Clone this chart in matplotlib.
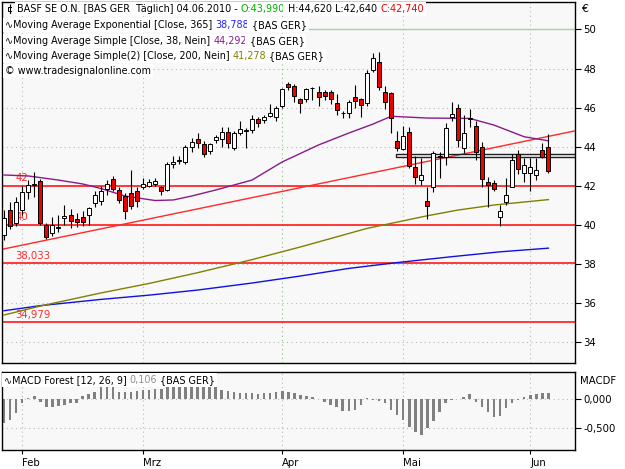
import matplotlib
matplotlib.use("Agg")
import matplotlib.pyplot as plt
from matplotlib.patches import Rectangle

# ---- data (BASF daily, 27.01.2010 - 04.06.2010) ----
opens = [39.46, 40.74, 40.08, 40.74, 41.68, 42.05, 42.25, 39.97, 39.58, 39.82,
         40.32, 40.49, 40.27, 40.40, 40.49, 41.09, 41.20, 41.80, 42.33, 41.77,
         41.46, 41.63, 41.72, 41.93, 42.00, 42.08, 41.93, 41.77, 43.10, 43.25,
         43.22, 43.99, 44.37, 44.13, 43.78, 44.33, 44.37, 44.76, 43.91, 44.68,
         44.80, 44.85, 45.40, 45.36, 45.56, 45.50, 46.08, 47.20, 47.10, 46.42,
         46.42, 46.98, 46.81, 46.81, 46.81, 46.22, 45.72, 45.70, 46.55, 46.42,
         46.23, 47.92, 48.35, 46.81, 46.74, 44.28, 43.87, 44.74, 42.96, 42.30,
         41.20, 41.92, 43.45, 43.46, 45.51, 45.99, 43.93, 45.42, 45.05, 43.99,
         42.20, 42.15, 40.40, 41.17, 41.94, 43.62, 42.66, 42.63, 42.54, 43.82,
         43.99]
highs = [40.74, 41.15, 41.40, 42.00, 42.30, 42.71, 42.35, 40.10, 40.40, 40.50,
         40.99, 40.80, 40.60, 40.70, 40.90, 41.70, 42.00, 42.30, 42.50, 41.90,
         41.60, 42.80, 41.90, 42.40, 42.35, 42.40, 42.00, 43.20, 43.50, 43.50,
         44.10, 44.45, 44.70, 44.30, 44.20, 44.60, 45.00, 45.00, 44.80, 45.30,
         44.95, 45.60, 45.50, 45.60, 46.20, 46.10, 47.00, 47.30, 47.20, 46.50,
         47.00, 47.05, 47.10, 46.90, 46.90, 46.70, 45.80, 46.40, 47.15, 46.50,
         47.90, 48.80, 48.85, 47.10, 46.80, 44.80, 45.05, 45.00, 43.50, 43.40,
         41.90, 43.75, 43.70, 45.20, 46.30, 46.20, 45.60, 45.90, 45.30, 44.25,
         42.45, 42.30, 41.00, 42.38, 43.60, 43.80, 43.40, 43.40, 43.40, 44.20,
         44.62]
lows = [39.20, 39.75, 39.90, 40.50, 41.30, 41.43, 40.00, 39.25, 39.40, 39.60,
        39.97, 39.80, 39.85, 39.90, 40.00, 40.90, 41.00, 41.50, 41.70, 41.10,
        40.28, 40.80, 40.90, 41.80, 41.90, 41.95, 41.50, 41.70, 42.90, 43.10,
        43.10, 43.73, 43.90, 43.45, 43.60, 44.20, 44.00, 43.90, 43.80, 44.60,
        43.92, 44.70, 45.00, 45.20, 45.50, 45.30, 46.00, 46.90, 46.30, 45.72,
        46.30, 46.40, 46.10, 46.40, 46.20, 45.62, 45.45, 45.45, 46.00, 45.50,
        46.10, 47.80, 46.90, 45.90, 44.69, 43.75, 43.80, 42.90, 42.10, 42.03,
        40.30, 41.68, 42.40, 43.05, 45.30, 43.95, 43.67, 45.00, 43.30, 41.94,
        40.91, 41.70, 39.92, 41.00, 41.90, 42.60, 42.20, 41.73, 42.30, 43.40,
        42.64]
closes = [40.33, 39.90, 41.17, 41.68, 42.03, 42.10, 40.06, 39.37, 39.97, 39.89,
          40.44, 40.19, 40.14, 40.14, 40.83, 41.51, 41.70, 42.10, 41.80, 41.24,
          40.70, 40.95, 41.20, 42.10, 42.20, 42.25, 41.70, 43.10, 43.22, 43.30,
          43.99, 44.25, 44.20, 43.62, 44.13, 44.50, 44.76, 44.16, 44.71, 44.88,
          44.82, 45.40, 45.19, 45.50, 45.73, 45.96, 46.93, 47.04, 46.59, 46.22,
          46.93, 47.00, 46.55, 46.59, 46.42, 45.87, 45.70, 46.30, 46.35, 46.13,
          47.77, 48.54, 47.05, 46.30, 45.46, 43.92, 44.55, 43.02, 42.45, 42.54,
          40.96, 43.67, 43.50, 44.95, 45.67, 44.33, 44.69, 45.47, 43.73, 42.32,
          42.03, 41.82, 40.71, 41.51, 43.31, 42.83, 43.05, 42.96, 42.80, 43.48,
          42.74]

# moving averages, read at selected bars (bar index, value)
ema365_idx = [0, 6, 16, 24, 32, 41, 49, 57, 65, 74, 82, 90]
ema365_val = [35.58, 35.84, 36.16, 36.38, 36.64, 37.00, 37.36, 37.75, 38.05, 38.35, 38.60, 38.788]
sma38_idx = [0, 4, 9, 13, 16, 20, 25, 28, 31, 35, 41, 46, 52, 57, 61, 64, 70, 77, 81, 86, 90]
sma38_val = [42.54, 42.49, 42.28, 42.08, 41.85, 41.46, 41.23, 41.26, 41.46, 41.77, 42.28,
             43.21, 44.08, 44.69, 45.15, 45.55, 45.46, 45.44, 45.10, 44.50, 44.292]
sma200_idx = [0, 6, 16, 24, 32, 41, 49, 60, 70, 75, 81, 90]
sma200_val = [35.36, 35.82, 36.49, 36.98, 37.53, 38.20, 38.85, 39.80, 40.45, 40.74, 41.00, 41.278]

# MACD forest histogram
macd = [-0.41, -0.36, -0.25, -0.06, 0.03, 0.06, -0.04, -0.13, -0.13, -0.12,
        -0.10, -0.07, -0.06, 0.06, 0.10, 0.135, 0.22, 0.22, 0.21, 0.135,
        0.12, 0.135, 0.15, 0.165, 0.17, 0.18, 0.19, 0.22, 0.235, 0.235,
        0.235, 0.235, 0.22, 0.22, 0.22, 0.21, 0.165, 0.14, 0.12, 0.105,
        0.105, 0.105, 0.095, 0.105, 0.105, 0.12, 0.15, 0.135, 0.105, 0.076,
        0.06, 0.035, 0.005, -0.04, -0.10, -0.13, -0.20, -0.20, -0.19, -0.10,
        0.03, -0.01, -0.03, -0.07, -0.19, -0.28, -0.36, -0.48, -0.57, -0.63,
        -0.51, -0.39, -0.22, -0.06, -0.02, 0.01, 0.035, 0.094, -0.04, -0.13,
        -0.22, -0.32, -0.29, -0.16, -0.07, -0.02, 0.047, 0.07, 0.094, 0.106,
        0.106]

month_idx = [3, 23, 46, 66, 87]
month_labels = ["Feb", "Mrz", "Apr", "Mai", "Jun"]
price_ticks = [34, 36, 38, 40, 42, 44, 46, 48, 50]

support_levels = [42, 40, 38.033, 34.979]
support_labels = ["42", "40", "38,033", "34,979"]
trend_pts = [(0, 38.75), (90, 44.52)]
channel_from = 65
channel_lo, channel_hi = 43.45, 43.62

W, H = 625, 469
FONT = "DejaVu Sans"
FS = 6.9
plt.rcParams["font.family"] = FONT

fig = plt.figure(figsize=(W / 100, H / 100), dpi=100)
fig.patch.set_facecolor("white")
ax = fig.add_axes([2 / W, 1 - 363 / H, 573 / W, 361 / H])
ax2 = fig.add_axes([2 / W, 1 - 449.5 / H, 573 / W, 77.8 / H])

XMIN, XMAX = -0.33, 94.4
bg = "#f8f8f8"
for a in (ax, ax2):
    a.set_facecolor(bg)
    a.set_xlim(XMIN, XMAX)
    for s in a.spines.values():
        s.set_color("black")
        s.set_linewidth(1.0)
    a.yaxis.tick_right()
    a.tick_params(axis="y", direction="out", length=4, width=0.8,
                  labelsize=FS + 0.4, pad=2)

# ---- main panel ----
ax.set_ylim(32.9, 51.41)
ax.set_yticks(price_ticks)
ax.set_yticklabels([str(p) for p in price_ticks])
ax.tick_params(axis="x", length=0, labelbottom=False)

dot = (0, (1, 3))
for p in price_ticks[:-1]:
    ax.axhline(p, color="#b8b8b8", lw=0.8, ls=dot, zorder=0)
ax.axhline(50, color="#a9cfa9", lw=1.0, zorder=0)
for m, lab in zip(month_idx, month_labels):
    col = "#7fbf7f" if lab == "Apr" else "#b8b8b8"
    ax.axvline(m, color=col, lw=0.8, ls=dot, zorder=0)
    ax2.axvline(m, color="#b8b8b8", lw=0.8, ls=dot, zorder=0)

for lvl, lab in zip(support_levels, support_labels):
    ax.axhline(lvl, color="#ff2a2a", lw=1.3, zorder=1)
    ax.text(1.9, lvl + 0.12, lab, color="#ff2a2a", fontsize=FS + 0.4,
            ha="left", va="bottom", zorder=1)

ax.axline(trend_pts[0], trend_pts[1], color="#ff2a2a", lw=1.0, zorder=2)
ax.add_patch(Rectangle((channel_from - 0.2, channel_lo), XMAX - channel_from + 0.5,
                       channel_hi - channel_lo, facecolor="none",
                       edgecolor="#202020", lw=1.0, zorder=2))

ax.plot(ema365_idx, ema365_val, color="#1010e0", lw=1.0, zorder=2)
ax.plot(sma38_idx, sma38_val, color="#8a1a8a", lw=1.0, zorder=2)
ax.plot(sma200_idx, sma200_val, color="#808000", lw=1.0, zorder=2)

for i, (o, h, l, c) in enumerate(zip(opens, highs, lows, closes)):
    ax.vlines(i, l, h, color="black", lw=0.8, zorder=3)
    lo, hi = min(o, c), max(o, c)
    face = "white" if c >= o else "#ee0000"
    ax.add_patch(Rectangle((i - 0.33, lo), 0.66, max(hi - lo, 0.03),
                           facecolor=face, edgecolor="black", lw=0.7, zorder=4))

# ---- MACD panel ----
ax2.set_ylim(-0.884, 0.486)
ax2.set_yticks([0, -0.5])
ax2.set_yticklabels(["0,000", "-0,500"])
for v in (0, -0.5):
    ax2.axhline(v, color="#b8b8b8", lw=0.8, ls=dot, zorder=0)
ax2.bar(range(len(macd)), macd, width=0.42, color="#808080", zorder=2)
ax2.set_xticks(month_idx)
ax2.set_xticklabels(month_labels)
ax2.tick_params(axis="x", direction="out", length=3, width=0.8,
                labelsize=FS + 0.4, pad=3)
for t in ax2.get_xticklabels():
    t.set_ha("left")

fig.text(581 / W, 1 - 9 / H, "€", fontsize=FS + 1, va="center", ha="left")
fig.text(580 / W, 1 - 381 / H, "MACDF", fontsize=FS + 0.4, va="center", ha="left")

# ---- legend lines with coloured values ----
renderer = fig.canvas.get_renderer()


def line_of_text(x_px, y_px, parts, bgbox=True):
    x = x_px
    for txt, col in parts:
        t = fig.text(x / W, 1 - y_px / H, txt, color=col, fontsize=FS,
                     va="center", ha="left", zorder=10)
        if bgbox:
            t.set_bbox(dict(facecolor="white", edgecolor="none", pad=1.2))
        x = t.get_window_extent(renderer).x1
    return x


line_of_text(17, 9, [("BASF SE O.N. [BAS GER  Täglich] 04.06.2010 - ", "black"),
                     ("O:43,990", "#00b000"), (" H:44,620 L:42,640 ", "black"),
                     ("C:42,740", "#ee0000")])
line_of_text(5, 25, [("∿Moving Average Exponential [Close, 365] ", "black"),
                     ("38,788", "#2020ff"), (" {BAS GER}", "black")])
line_of_text(5, 41, [("∿Moving Average Simple [Close, 38, Nein] ", "black"),
                     ("44,292", "#8a1a8a"), (" {BAS GER}", "black")])
line_of_text(5, 56, [("∿Moving Average Simple(2) [Close, 200, Nein] ", "black"),
                     ("41,278", "#808000"), (" {BAS GER}", "black")])
line_of_text(5, 71, [("© www.tradesignalonline.com", "black")])
line_of_text(4, 380, [("∿MACD Forest [12, 26, 9] ", "black"), ("0,106", "#909090"),
                      (" {BAS GER}", "black")])

# small candle icon before the title
ax_icon = fig.add_axes([7 / W, 1 - 14 / H, 5 / W, 10 / H])
ax_icon.axis("off")
ax_icon.set_xlim(0, 1)
ax_icon.set_ylim(0, 1)
ax_icon.vlines(0.5, 0, 1, color="black", lw=0.8)
ax_icon.add_patch(Rectangle((0.1, 0.3), 0.8, 0.4, facecolor="white",
                            edgecolor="black", lw=0.7))

fig.savefig("out.png", dpi=100)
